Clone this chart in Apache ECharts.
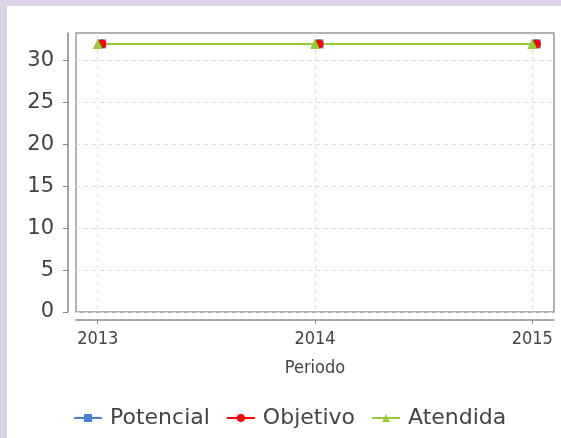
<!DOCTYPE html>
<html>
<head>
<meta charset="utf-8">
<script src="https://cdn.jsdelivr.net/npm/echarts@6/dist/echarts.min.js"></script>
<style>
  html, body { margin: 0; padding: 0; background: #dbd3e7; width: 561px; height: 438px; overflow: hidden; }
  #chart { position: absolute; left: 7px; top: 6px; width: 554px; height: 432px; background: #fff; }
</style>
</head>
<body>
<div id="chart"></div>
<script>
const years = [2013, 2014, 2015]
const potencial = [32, 32, 32]
const objetivo = [32, 32, 32]
const atendida = [32, 32, 32]
const yTicks = [0, 5, 10, 15, 20, 25, 30]

const pairs = vals => years.map((y, i) => [y, vals[i]])

const myChart = echarts.init(document.getElementById('chart'))
myChart.setOption({
  animation: false,
  grid: {
    left: 69,
    right: 7,
    top: 27,
    bottom: 126,
    show: true,
    borderColor: '#999',
    borderWidth: 1.5
  },
  legend: {
    left: 66,
    top: 401,
    padding: 0,
    itemWidth: 28,
    itemHeight: 10,
    itemGap: 16,
    textStyle: {
      fontFamily: 'DejaVu Sans',
      fontSize: 22,
      color: '#444',
      padding: [0, 0, 0, 3]
    },
    data: ['Potencial', 'Objetivo', 'Atendida']
  },
  xAxis: {
    type: 'value',
    min: 2012.9,
    max: 2015.1,
    offset: 8,
    name: 'Periodo',
    nameLocation: 'middle',
    nameGap: 39,
    nameTextStyle: {
      fontFamily: 'DejaVu Sans Condensed',
      fontSize: 18,
      color: '#444'
    },
    axisLine: { onZero: false, lineStyle: { color: '#888', width: 1.5 } },
    axisTick: { length: 4, lineStyle: { color: '#888' }, customValues: years },
    axisLabel: {
      customValues: years,
      margin: 10,
      fontFamily: 'DejaVu Sans Condensed',
      fontSize: 18,
      color: '#444',
      formatter: v => String(v)
    },
    splitLine: { show: true, lineStyle: { color: '#ddd', type: [4, 4] } }
  },
  yAxis: {
    type: 'value',
    min: 0,
    max: 33.3,
    interval: 5,
    offset: 8,
    axisLine: { show: true, onZero: false, lineStyle: { color: '#888', width: 1.5 } },
    axisTick: { show: true, length: 5, lineStyle: { color: '#888' }, customValues: yTicks },
    axisLabel: {
      customValues: yTicks,
      margin: 14,
      fontFamily: 'DejaVu Sans',
      fontSize: 21,
      color: '#444'
    },
    splitLine: { show: true, lineStyle: { color: '#ddd', type: [4, 4] } }
  },
  series: [
    {
      name: 'Potencial',
      type: 'line',
      symbol: 'rect',
      symbolSize: 9,
      symbolOffset: [4, 0],
      itemStyle: { color: '#4a7fd6' },
      lineStyle: { color: '#4a7fd6', width: 2 },
      data: pairs(potencial)
    },
    {
      name: 'Objetivo',
      type: 'line',
      symbol: 'circle',
      symbolSize: 9,
      symbolOffset: [4, 0],
      itemStyle: { color: '#ff0000' },
      lineStyle: { color: '#ff0000', width: 2 },
      data: pairs(objetivo)
    },
    {
      name: 'Atendida',
      type: 'line',
      symbol: 'triangle',
      symbolSize: 10,
      itemStyle: { color: '#99cc33' },
      lineStyle: { color: '#99cc33', width: 2 },
      data: pairs(atendida)
    }
  ]
})
</script>
</body>
</html>
